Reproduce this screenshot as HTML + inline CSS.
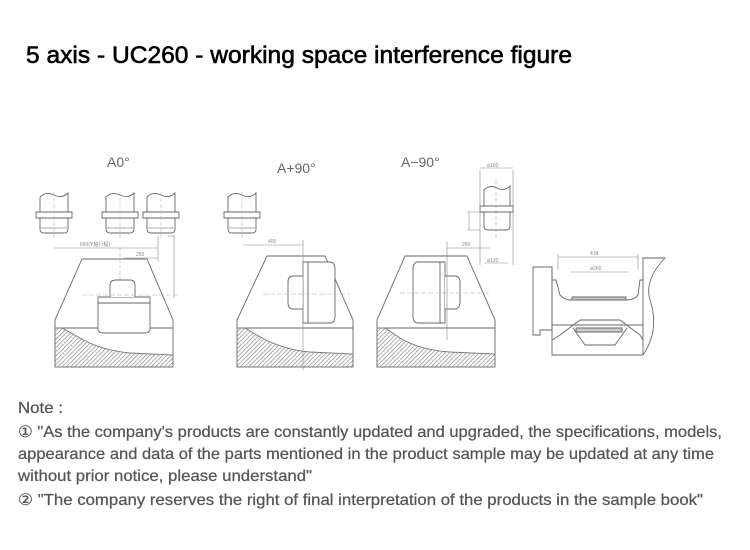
<!DOCTYPE html>
<html><head><meta charset="utf-8"><style>
html,body{margin:0;padding:0;background:#fff;}
svg{display:block;}
</style></head><body>
<svg width="750" height="550" viewBox="0 0 750 550" xmlns="http://www.w3.org/2000/svg">
<defs>
<pattern id="h" width="3" height="3" patternUnits="userSpaceOnUse" patternTransform="rotate(45)">
<line x1="0" y1="0" x2="0" y2="3" stroke="#777" stroke-width="1.2"/>
</pattern>
</defs>
<text x="26" y="63" font-family="Liberation Sans, sans-serif" font-size="24" fill="#000" stroke="#000" stroke-width="0.6" textLength="546" lengthAdjust="spacingAndGlyphs">5 axis - UC260 - working space interference figure</text>

<g fill="none" stroke="#666" stroke-width="0.9">
<g id="sp">
<path d="M40 218 V229 Q40 233 44 233 H64 Q68 233 68 229 V218 M36 212 H72 V218 H36 Z M40 212 V197 Q46 191 54 195 Q62 199 68 193 V212"/>
<path d="M41 228 H67" stroke="#aaa"/>
<path d="M54 192 V240" stroke="#aaa" stroke-width="0.5" stroke-dasharray="4 2"/>
</g>
<use href="#sp" transform="translate(66,0)"/>
<use href="#sp" transform="translate(107,0)"/>
<use href="#sp" transform="translate(188,0)"/>
<path d="M53 248 H158 M124 258 H158 M158 236 V262 M174 236 V298 M168 236 H175" stroke="#888" stroke-width="0.6"/>
<path d="M120 247 V300" stroke="#999" stroke-dasharray="4 2" stroke-width="0.5"/>
<path d="M55 367 V320 L82 259 H147 L173 320 V367"/>
<path d="M55 328 H173"/>
<path d="M55 328 H62 L80 338 Q100 350 130 353 L173 355 V367 H55 Z" fill="url(#h)" stroke="#777"/>
<path d="M98 297 H150 V329 Q150 333 145 333 H103 Q98 333 98 329 Z" fill="#fff"/>
<path d="M98 303 H150"/>
<path d="M110 297 V285 Q110 280 116 280 H130 Q135 280 135 285 V297" fill="#fff"/>
<path d="M82 295 H180" stroke="#aaa" stroke-width="0.5" stroke-dasharray="5 2"/>

<path d="M237 367 V320 L267 256 H325 L353 320 V367"/>
<path d="M237 328 H353"/>
<path d="M237 328 H245 L262 338 Q285 350 310 352 L353 354 V367 H237 Z" fill="url(#h)" stroke="#777"/>
<path d="M303 262 H330 Q335 262 335 270 V316 Q335 323 330 323 H303 Z" fill="#fff"/>
<path d="M308 262 V323"/>
<path d="M303 276 H293 Q288 276 288 282 V302 Q288 309 293 309 H303" fill="#fff"/>
<path d="M243 245 H303 M303 240 V370" stroke="#888" stroke-width="0.6"/>
<path d="M263 294 H350" stroke="#aaa" stroke-width="0.5" stroke-dasharray="5 2"/>

<path d="M377 367 V320 L405 256 H467 L495 320 V367"/>
<path d="M377 328 H495"/>
<path d="M377 328 H385 L400 338 Q420 350 450 352 L495 354 V367 H377 Z" fill="url(#h)" stroke="#777"/>
<path d="M445 262 H418 Q413 262 413 270 V316 Q413 323 418 323 H445 Z" fill="#fff"/>
<path d="M440 262 V323"/>
<path d="M445 276 H454 Q460 276 460 282 V302 Q460 309 454 309 H445" fill="#fff"/>
<path d="M447 248 H490 M447 242 V340" stroke="#888" stroke-width="0.6"/>
<path d="M400 293 H490" stroke="#aaa" stroke-width="0.5" stroke-dasharray="5 2"/>
<path d="M484 212 V226 Q484 230 488 230 H506 Q510 230 510 226 V212 M480 206 H513 V212 H480 Z M484 206 V190 Q490 184 497 188 Q504 192 510 186 V206"/>
<path d="M480 170 V265 M513 170 V265 M480 168 H513 M484 263 H508 M469 212 V230 M467 212 H480 M467 230 H480" stroke="#888" stroke-width="0.6"/>
<path d="M496 180 V238" stroke="#999" stroke-dasharray="4 2" stroke-width="0.5"/>

<path d="M533 267 H552 V330 H540 V335 H533 Z"/>
<path d="M552 267 V355 H643 Q660 330 650 300 Q644 280 665 258 H643 V355"/>
<path d="M552 280 H556 L560 295 Q565 300 570 300 H625 Q635 300 638 295 L640 280 H643"/>
<path d="M552 325 H643 M552 340 L560 335 L580 320 H620 L640 335 L643 340"/>
<path d="M573 328 L585 345 H615 L627 328"/>
<path d="M572 297 H626 V300 H572 Z M576 328 H622 V332 H576 Z" fill="#ccc"/>
<path d="M558 257 H638 M570 272 H628 M558 254 V270 M638 254 V270" stroke="#888" stroke-width="0.6"/>
</g>
<g font-family="Liberation Sans, sans-serif" fill="#666">
<text x="107" y="167" font-size="14">A0°</text>
<text x="277" y="173" font-size="14">A+90°</text>
<text x="401" y="167" font-size="14">A−90°</text>
<g font-size="5" fill="#888">
<text x="80" y="246">650(Y轴行程)</text>
<text x="136" y="256">250</text>
<text x="268" y="243">400</text>
<text x="462" y="246">250</text>
<text x="487" y="167">ø160</text>
<text x="487" y="262">ø120</text>
<text x="590" y="255">418</text>
<text x="590" y="270">ø260</text>
</g>
</g>
<g font-family="Liberation Sans, sans-serif" font-size="16" fill="#555" stroke="#555" stroke-width="0.25">
<text x="18" y="413" textLength="45" lengthAdjust="spacingAndGlyphs">Note :</text>
<text x="18" y="437" textLength="704" lengthAdjust="spacingAndGlyphs">① "As the company's products are constantly updated and upgraded, the specifications, models,</text>
<text x="18" y="459" textLength="696" lengthAdjust="spacingAndGlyphs">appearance and data of the parts mentioned in the product sample may be updated at any time</text>
<text x="18" y="481" textLength="294" lengthAdjust="spacingAndGlyphs">without prior notice, please understand"</text>
<text x="18" y="505" textLength="685" lengthAdjust="spacingAndGlyphs">② "The company reserves the right of final interpretation of the products in the sample book"</text>
</g>
</svg>
</body></html>
